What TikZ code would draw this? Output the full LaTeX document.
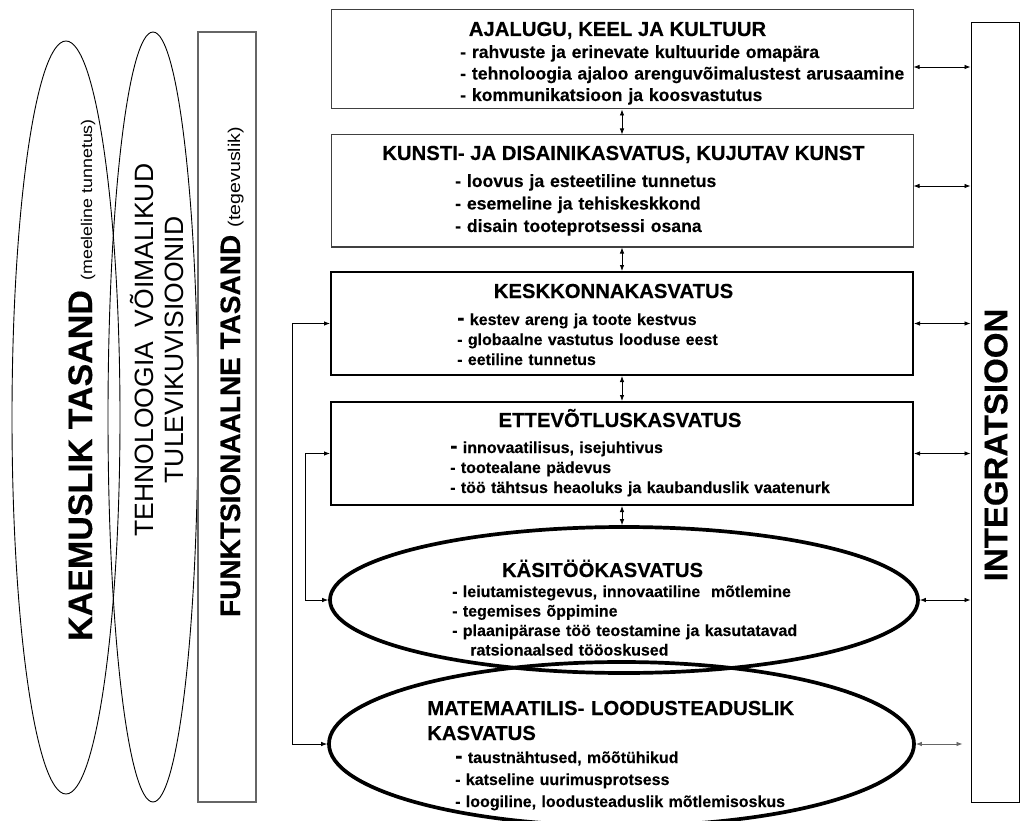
\documentclass[tikz,border=0pt]{standalone}
\usepackage{fontspec}
\setmainfont{Liberation Sans}[BoldFeatures={FakeBold=0.3}]
\newfontfamily\sidefont[FakeStretch=1.15]{Liberation Sans}
\usetikzlibrary{arrows.meta,calc,shapes.geometric}

\begin{document}
\begin{tikzpicture}[
		x=1pt, y=-1pt,
		>={Latex[length=6pt,width=4.5pt]},
		plainbox/.style={draw=black!75, line width=1pt, inner sep=0pt, minimum width=582},
		boldbox/.style={draw=black, line width=2pt, inner sep=0pt, minimum width=582},
		boldell/.style={ellipse, draw=black, line width=3.7pt, inner sep=0pt},
		thinell/.style={ellipse, draw=black, line width=0.9pt, inner sep=0pt},
		sidetext/.style={rotate=90, inner sep=0pt},
		title/.style={anchor=base, inner sep=0pt, font=\bfseries\fontsize{20.3}{25}\selectfont},
		items/.style={anchor=base west, inner sep=0pt, align=left, text width=480pt,
			font=\bfseries\fontsize{17.6}{#1}\selectfont},
		smallitems/.style={anchor=base west, inner sep=0pt, align=left, text width=480pt,
			font=\bfseries\fontsize{16}{#1}\selectfont},
		link/.style={<->, line width=0.8pt}
		]
		
		\useasboundingbox (0,0) rectangle (1020,821);
		\fill[white] (0,0) rectangle (1020,821);
		\clip (0,0) rectangle (1020,821);
		
		% left levels
		\node[thinell, minimum width=108, minimum height=753] (kaem) at (66,417.5) {};
		\node[thinell, minimum width=90, minimum height=770] (tehn) at (153,417) {};
		\node[draw=black!60, line width=1.5pt, inner sep=0pt, minimum width=58, minimum height=770] (funk) at (227,417) {};
		
		\node[sidetext, anchor=base] (kaemtxt) at (92,380)
		{\bfseries\fontsize{34}{34}\selectfont KAEMUSLIK TASAND \sidefont\mdseries\fontsize{15.5}{15}\selectfont(meeleline tunnetus)};
		\node[sidetext, align=center, font=\fontsize{26.5}{30}\selectfont] (tehntxt) at (157,350)
		{TEHNOLOOGIA\ \ VÕIMALIKUD\\TULEVIKUVISIOONID};
		\node[sidetext, anchor=base] (funktxt) at (240,372)
		{\bfseries\fontsize{28}{28}\selectfont FUNKTSIONAALNE TASAND \sidefont\mdseries\fontsize{17}{17}\selectfont(tegevuslik)};
		
		% subject boxes
		\node[plainbox, minimum height=99] (ajalugu) at (622,59.5) {};
		\node[plainbox, minimum height=112] (kunst) at (622,191) {};
		\node[boldbox, minimum height=103] (keskk) at (622,323.5) {};
		\node[boldbox, minimum height=103] (ettev) at (622,453.5) {};
		\node[boldell, minimum width=588, minimum height=146] (kasit) at (624,600) {};
		\node[boldell, minimum width=585, minimum height=164] (matem) at (621.5,744) {};
		\node[draw, line width=1pt, inner sep=0pt, minimum width=48, minimum height=779] (integr) at (995,412.5) {};
		
		\node[title] (ajalugut) at (617.5,36) {AJALUGU, KEEL JA KULTUUR};
		\node[items=21.5] (ajalugui) at (460,58)
		{- rahvuste ja erinevate kultuuride omapära\\- tehnoloogia ajaloo arenguvõimalustest arusaamine\\- kommunikatsioon ja koosvastutus};
		
		\node[title] (kunstt) at (623.5,160) {KUNSTI- JA DISAINIKASVATUS, KUJUTAV KUNST};
		\node[items=22.5] (kunsti) at (455,187)
		{- loovus ja esteetiline tunnetus\\- esemeline ja tehiskeskkond\\- disain tooteprotsessi osana};
		
		\node[title] (keskkt) at (613.5,298) {KESKKONNAKASVATUS};
		\node[smallitems=20] (keskki) at (457,325)
		{{\fontsize{22}{22}\selectfont -} kestev areng ja toote kestvus\\- globaalne vastutus looduse eest\\- eetiline tunnetus};
		
		\node[title] (ettevt) at (620,427) {ETTEVÕTLUSKASVATUS};
		\node[smallitems=20] (ettevi) at (450,453)
		{{\fontsize{22}{22}\selectfont -} innovaatilisus, isejuhtivus\\- tootealane pädevus\\- töö tähtsus heaoluks ja kaubanduslik vaatenurk};
		
		\node[title] (kasitt) at (602.5,577) {KÄSITÖÖKASVATUS};
		\node[smallitems=19.5] (kasiti) at (452,597)
		{- leiutamistegevus, innovaatiline\ \ mõtlemine\\- tegemises õppimine\\- plaanipärase töö teostamine ja kasutatavad\\\hspace*{18pt}ratsionaalsed tööoskused};
		
		\node[title, anchor=base west, align=left, text width=400pt] (matemt) at (427,715)
		{MATEMAATILIS- LOODUSTEADUSLIK\\KASVATUS};
		\node[smallitems=22] (matemi) at (455,763)
		{{\fontsize{22}{22}\selectfont -} taustnähtused, mõõtühikud\\- katseline uurimusprotsess\\- loogiline, loodusteaduslik mõtlemisoskus};
		
		\node[sidetext, font=\bfseries\fontsize{33}{33}\selectfont] (integrt) at (996,445) {INTEGRATSIOON};
		
		% links between the boxes
		\draw[link] (ajalugu) -- (kunst);
		\draw[link] (kunst) -- (keskk);
		\draw[link] (keskk) -- (ettev);
		\draw[link] (ettev.south) -- (ettev.south |- kasit.north);
		
		% links to integration
		\coordinate (r1) at ($(ajalugu.east)+(0,7.5)$);
		\coordinate (r2) at ($(kunst.east)+(0,-5)$);
		\coordinate (r6) at ($(integr.west |- matem.east)+(-8,0)$);
		\draw[link] (r1) -- (r1 -| integr.west);
		\draw[link] (r2) -- (r2 -| integr.west);
		\draw[link] (keskk.east) -- (keskk.east -| integr.west);
		\draw[link] (ettev.east) -- (ettev.east -| integr.west);
		\draw[link] (kasit.east) -- (kasit.east -| integr.west);
		\draw[link, draw=black!60] (matem.east) -- (r6);
		
		% side links
		\draw[link] (keskk.west) -- ++(-38,0) |- (matem.west);
		\draw[link] (ettev.west) -- ++(-25,0) |- (kasit.west);
		
	\end{tikzpicture}
\end{document}
